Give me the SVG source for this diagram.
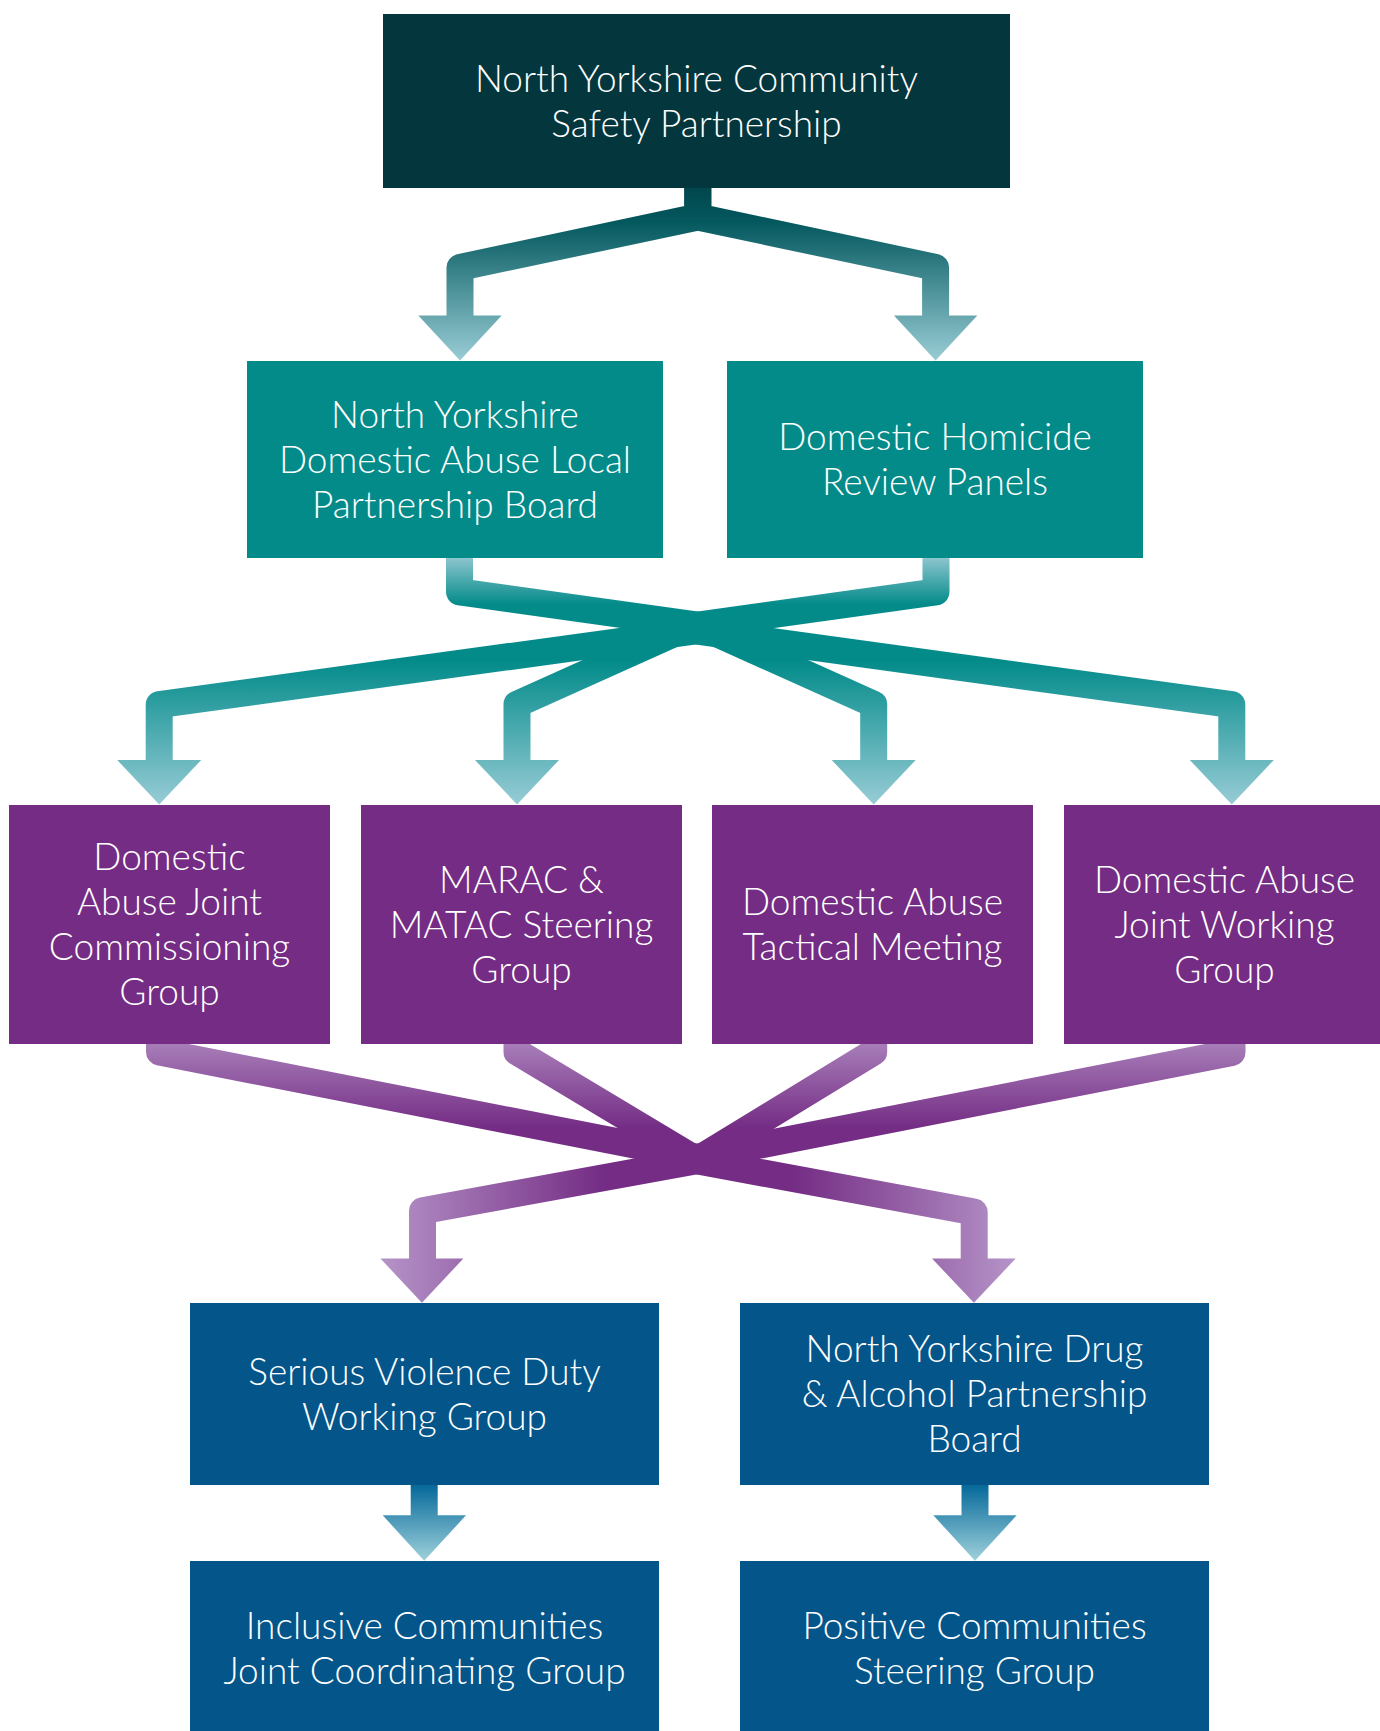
<svg xmlns="http://www.w3.org/2000/svg" width="1380" height="1731" viewBox="0 0 1380 1731">
<style>
.t{font-family:Lato,"Noto Sans","Liberation Sans",sans-serif;font-size:37px;font-weight:300;fill:#ffffff;text-anchor:middle}
.ln{fill:none;stroke-width:27;stroke-linejoin:round;stroke-linecap:butt}
.top{fill:#03363d}
.teal{fill:#038b8a}
.pur{fill:#742c84}
.blu{fill:#03558a}
</style>
<defs>
<linearGradient id="gTop" gradientUnits="userSpaceOnUse" x1="0" y1="187" x2="0" y2="361">
<stop offset="0" stop-color="#02464d"/>
<stop offset="0.2" stop-color="#03585e"/>
<stop offset="1" stop-color="#9acdd6"/>
</linearGradient>
<linearGradient id="gTeal" gradientUnits="userSpaceOnUse" x1="0" y1="557" x2="0" y2="805">
<stop offset="0" stop-color="#8fc6cf"/>
<stop offset="0.19" stop-color="#038b8a"/>
<stop offset="0.42" stop-color="#038b8a"/>
<stop offset="1" stop-color="#98ccd6"/>
</linearGradient>
<linearGradient id="gPurIn" gradientUnits="userSpaceOnUse" x1="0" y1="1044" x2="0" y2="1128">
<stop offset="0" stop-color="#a77db8"/>
<stop offset="1" stop-color="#742c84"/>
</linearGradient>
<linearGradient id="gPurL" gradientUnits="userSpaceOnUse" x1="700" y1="0" x2="380" y2="0">
<stop offset="0" stop-color="#742c84"/>
<stop offset="0.3" stop-color="#742c84"/>
<stop offset="1" stop-color="#b594c8"/>
</linearGradient>
<linearGradient id="gPurR" gradientUnits="userSpaceOnUse" x1="696" y1="0" x2="1016" y2="0">
<stop offset="0" stop-color="#742c84"/>
<stop offset="0.3" stop-color="#742c84"/>
<stop offset="1" stop-color="#b594c8"/>
</linearGradient>
<linearGradient id="gBlue" gradientUnits="userSpaceOnUse" x1="0" y1="1485" x2="0" y2="1561">
<stop offset="0" stop-color="#05699a"/>
<stop offset="1" stop-color="#9fd1db"/>
</linearGradient>
</defs>
<rect width="1380" height="1731" fill="#ffffff"/>
<g id="connectors">
<g id="c-top">
<path class="ln" stroke="url(#gTop)" d="M697.8,187 V217 L460,267.4 V316"/>
<path class="ln" stroke="url(#gTop)" d="M697.8,187 V217 L935.6,267.4 V316"/>
<polygon fill="url(#gTop)" points="418.3,315.5 501.7,315.5 460,360.5"/>
<polygon fill="url(#gTop)" points="893.9,315.5 977.3,315.5 935.6,360.5"/>
</g>
<g id="c-teal">
<path class="ln" stroke="url(#gTeal)" d="M459.5,557 V591.8 L697.7,625.2"/>
<path class="ln" stroke="url(#gTeal)" d="M936,557 V591.8 L697.7,625.2"/>
<path class="ln" stroke="url(#gTeal)" d="M695.5,631 L159.2,704.7 V761"/>
<path class="ln" stroke="url(#gTeal)" d="M695.5,631 L1231.8,704.7 V761"/>
<path class="ln" stroke="url(#gTeal)" d="M690,626.5 L517,704.3 V761"/>
<path class="ln" stroke="url(#gTeal)" d="M700.7,626.5 L873.7,704.3 V761"/>
<polygon fill="url(#gTeal)" points="117.2,760 201.2,760 159.2,804.5"/>
<polygon fill="url(#gTeal)" points="475,760 559,760 517,804.5"/>
<polygon fill="url(#gTeal)" points="831.7,760 915.7,760 873.7,804.5"/>
<polygon fill="url(#gTeal)" points="1189.8,760 1273.8,760 1231.8,804.5"/>
</g>
<g id="c-purple">
<path class="ln" stroke="url(#gPurL)" d="M698,1160.5 L422.5,1210.7 V1259.5"/>
<path class="ln" stroke="url(#gPurR)" d="M698,1161 L974.2,1212.1 V1259.5"/>
<polygon fill="url(#gPurL)" points="380.4,1258.5 463.4,1258.5 421.9,1302.8"/>
<polygon fill="url(#gPurR)" points="932,1258.5 1015.7,1258.5 973.9,1302.8"/>
<path class="ln" stroke="url(#gPurIn)" d="M159.5,1043 V1052 L698,1157.5"/>
<path class="ln" stroke="url(#gPurIn)" d="M1232,1043 V1052.5 L698,1157.2"/>
<path class="ln" stroke="url(#gPurIn)" d="M517,1043 V1052 L697,1160"/>
<path class="ln" stroke="url(#gPurIn)" d="M873.7,1043 V1052 L697,1160"/>
</g>
<g id="c-blue">
<path class="ln" stroke="url(#gBlue)" d="M424.2,1484 V1516"/>
<path class="ln" stroke="url(#gBlue)" d="M975,1484 V1516"/>
<polygon fill="url(#gBlue)" points="382.7,1515.3 466,1515.3 424.2,1560.8"/>
<polygon fill="url(#gBlue)" points="933.3,1515.3 1016.7,1515.3 975,1560.8"/>
</g>
</g>
<g id="n1"><rect class="top" x="383" y="14" width="627" height="174"/>
<text class="t" x="696.5" y="91.5">North Yorkshire Community</text>
<text class="t" x="696.5" y="136.5">Safety Partnership</text></g>
<g id="n2"><rect class="teal" x="247" y="361" width="416" height="197"/>
<text class="t" x="455" y="427.5">North Yorkshire</text>
<text class="t" x="455" y="472.5">Domestic Abuse Local</text>
<text class="t" x="455" y="517.5">Partnership Board</text></g>
<g id="n3"><rect class="teal" x="727" y="361" width="416" height="197"/>
<text class="t" x="935" y="450">Domestic Homicide</text>
<text class="t" x="935" y="495">Review Panels</text></g>
<g id="n4"><rect class="pur" x="9" y="805" width="321" height="239"/>
<text class="t" x="169.5" y="870">Domestic</text>
<text class="t" x="169.5" y="915">Abuse Joint</text>
<text class="t" x="169.5" y="960">Commissioning</text>
<text class="t" x="169.5" y="1005">Group</text></g>
<g id="n5"><rect class="pur" x="361" y="805" width="321" height="239"/>
<text class="t" x="521.5" y="892.5">MARAC &amp;</text>
<text class="t" x="521.5" y="937.5">MATAC Steering</text>
<text class="t" x="521.5" y="982.5">Group</text></g>
<g id="n6"><rect class="pur" x="712" y="805" width="321" height="239"/>
<text class="t" x="872.5" y="915">Domestic Abuse</text>
<text class="t" x="872.5" y="960">Tactical Meeting</text></g>
<g id="n7"><rect class="pur" x="1064" y="805" width="321" height="239"/>
<text class="t" x="1224.5" y="892.5">Domestic Abuse</text>
<text class="t" x="1224.5" y="937.5">Joint Working</text>
<text class="t" x="1224.5" y="982.5">Group</text></g>
<g id="n8"><rect class="blu" x="190" y="1303" width="469" height="182"/>
<text class="t" x="424.5" y="1385">Serious Violence Duty</text>
<text class="t" x="424.5" y="1430">Working Group</text></g>
<g id="n9"><rect class="blu" x="740" y="1303" width="469" height="182"/>
<text class="t" x="974.5" y="1362">North Yorkshire Drug</text>
<text class="t" x="974.5" y="1407">&amp; Alcohol Partnership</text>
<text class="t" x="974.5" y="1452">Board</text></g>
<g id="n10"><rect class="blu" x="190" y="1561" width="469" height="175"/>
<text class="t" x="424.5" y="1638.5">Inclusive Communities</text>
<text class="t" x="424.5" y="1683.5">Joint Coordinating Group</text></g>
<g id="n11"><rect class="blu" x="740" y="1561" width="469" height="175"/>
<text class="t" x="974.5" y="1638.5">Positive Communities</text>
<text class="t" x="974.5" y="1683.5">Steering Group</text></g>
</svg>
